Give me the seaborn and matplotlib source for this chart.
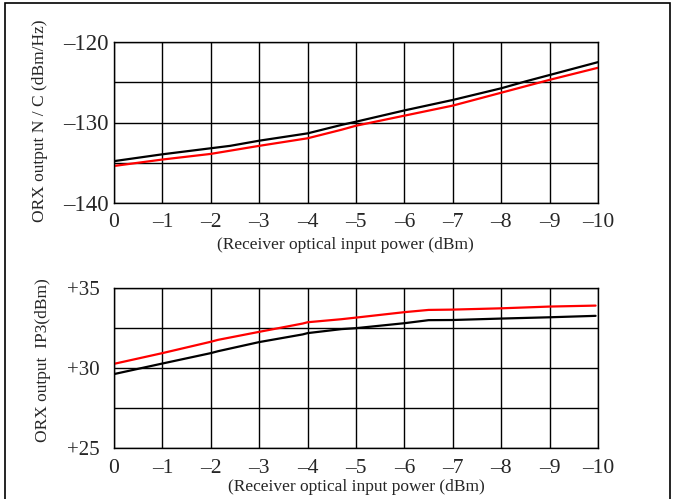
import matplotlib
matplotlib.use("Agg")
import matplotlib.pyplot as plt
import matplotlib.patches as mpatches
import numpy as np
import pandas as pd
import seaborn as sns

# top panel: ORX output N/C vs receiver optical input power
nc_x = [0, -1, -2, -2.4, -3, -4, -4.7, -5, -6, -7, -8, -8.5, -9, -10]
nc_black = [-134.8, -133.95, -133.2, -132.9, -132.26, -131.35, -130.3, -129.9,
            -128.5, -127.2, -125.75, -124.9, -124.1, -122.5]
nc_red = [-135.4, -134.6, -133.9, -133.5, -132.9, -131.96, -130.9, -130.4,
          -129.15, -127.9, -126.3, -125.5, -124.7, -123.2]

# bottom panel: ORX output IP3
ip3_x = [0, -1, -2, -2.15, -3, -3.9, -4, -4.7, -5, -6, -6.5, -7, -8, -9, -9.95]
ip3_red = [30.26, 30.93, 31.64, 31.76, 32.26, 32.78, 32.86, 33.05, 33.15,
           33.49, 33.63, 33.65, 33.73, 33.84, 33.9]
ip3_black = [29.62, 30.28, 30.93, 31.05, 31.62, 32.1, 32.18, 32.43, 32.49,
             32.8, 32.99, 33.0, 33.09, 33.17, 33.26]

x_ticks = [0, -1, -2, -3, -4, -5, -6, -7, -8, -9, -10]
x_tick_labels = ["0", "–1", "–2", "–3", "–4", "–5", "–6", "–7", "–8", "–9", "–10"]
nc_ticks = [-140, -130, -120]
nc_tick_labels = ["–140", "–130", "–120"]
nc_grid = [-140, -135, -130, -125, -120]
ip3_ticks = [25, 30, 35]
ip3_tick_labels = ["+25", "+30", "+35"]
ip3_grid = [25, 27.5, 30, 32.5, 35]

xlabel = "(Receiver optical input power (dBm)"

sns.set_style("white")
plt.rcParams['font.family'] = ['Liberation Serif', 'DejaVu Serif']

W, H = 677, 499
fig = plt.figure(figsize=(W / 100, H / 100), dpi=100)


def frac_box(left, top, right, bottom):
    return [left / W, 1 - bottom / H, (right - left) / W, (bottom - top) / H]


ax1 = fig.add_axes(frac_box(114, 42, 598, 203))
ax2 = fig.add_axes(frac_box(114, 288, 598, 448))

df_nc = pd.DataFrame({
    'x': nc_x * 2,
    'y': nc_black + nc_red,
    'series': ['black'] * len(nc_x) + ['red'] * len(nc_x),
})
df_ip3 = pd.DataFrame({
    'x': ip3_x * 2,
    'y': ip3_black + ip3_red,
    'series': ['black'] * len(ip3_x) + ['red'] * len(ip3_x),
})
pal = {'black': '#000000', 'red': '#ff0000'}


def style_axis(ax, grid_y, yticks, ylabels, ylim, ysize, ypad, xpad):
    ax.set_xlim(0, -10)
    ax.set_ylim(*ylim)
    for gx in x_ticks:
        ax.axvline(gx, color='black', lw=1.0, zorder=0)
    for gy in grid_y:
        ax.axhline(gy, color='black', lw=1.0, zorder=0)
    ax.set_xticks(x_ticks)
    ax.set_xticklabels(x_tick_labels, fontsize=15.5)
    ax.set_yticks(yticks)
    ax.set_yticklabels(ylabels, fontsize=ysize)
    ax.tick_params(axis='both', length=0)
    ax.tick_params(axis='y', pad=ypad)
    ax.tick_params(axis='x', pad=xpad)
    for sp in ax.spines.values():
        sp.set_color('black')
        sp.set_linewidth(1.0)
    ax.set_xlabel("")
    ax.set_ylabel("")


sns.lineplot(data=df_nc, x='x', y='y', hue='series', palette=pal,
             linewidth=1.6, ax=ax1, legend=False, sort=False)
sns.lineplot(data=df_ip3, x='x', y='y', hue='series', palette=pal,
             linewidth=1.6, ax=ax2, legend=False, sort=False)

style_axis(ax1, nc_grid, nc_ticks, nc_tick_labels, (-140, -120), 16.5, 4, 7)
style_axis(ax2, ip3_grid, ip3_ticks, ip3_tick_labels, (25, 35), 15, 10, 8)

fig.text(40 / W, 1 - 121 / H, "ORX output N / C (dBm/Hz)", rotation=90,
         ha='center', va='center', fontsize=12.5)
fig.text(43 / W, 1 - 360 / H, "ORX output  IP3(dBm)", rotation=90,
         ha='center', va='center', fontsize=12.5)
fig.text(345 / W, 1 - 245 / H, xlabel, ha='center', va='center', fontsize=12.5)
fig.text(356 / W, 1 - 487 / H, xlabel, ha='center', va='center', fontsize=12.5)

frame = mpatches.Rectangle((5 / W, -0.05), 665 / W, (499 - 3) / H + 0.05,
                           transform=fig.transFigure, fill=False,
                           edgecolor='black', lw=1.2)
fig.patches.append(frame)

fig.savefig("out.png", dpi=100)
